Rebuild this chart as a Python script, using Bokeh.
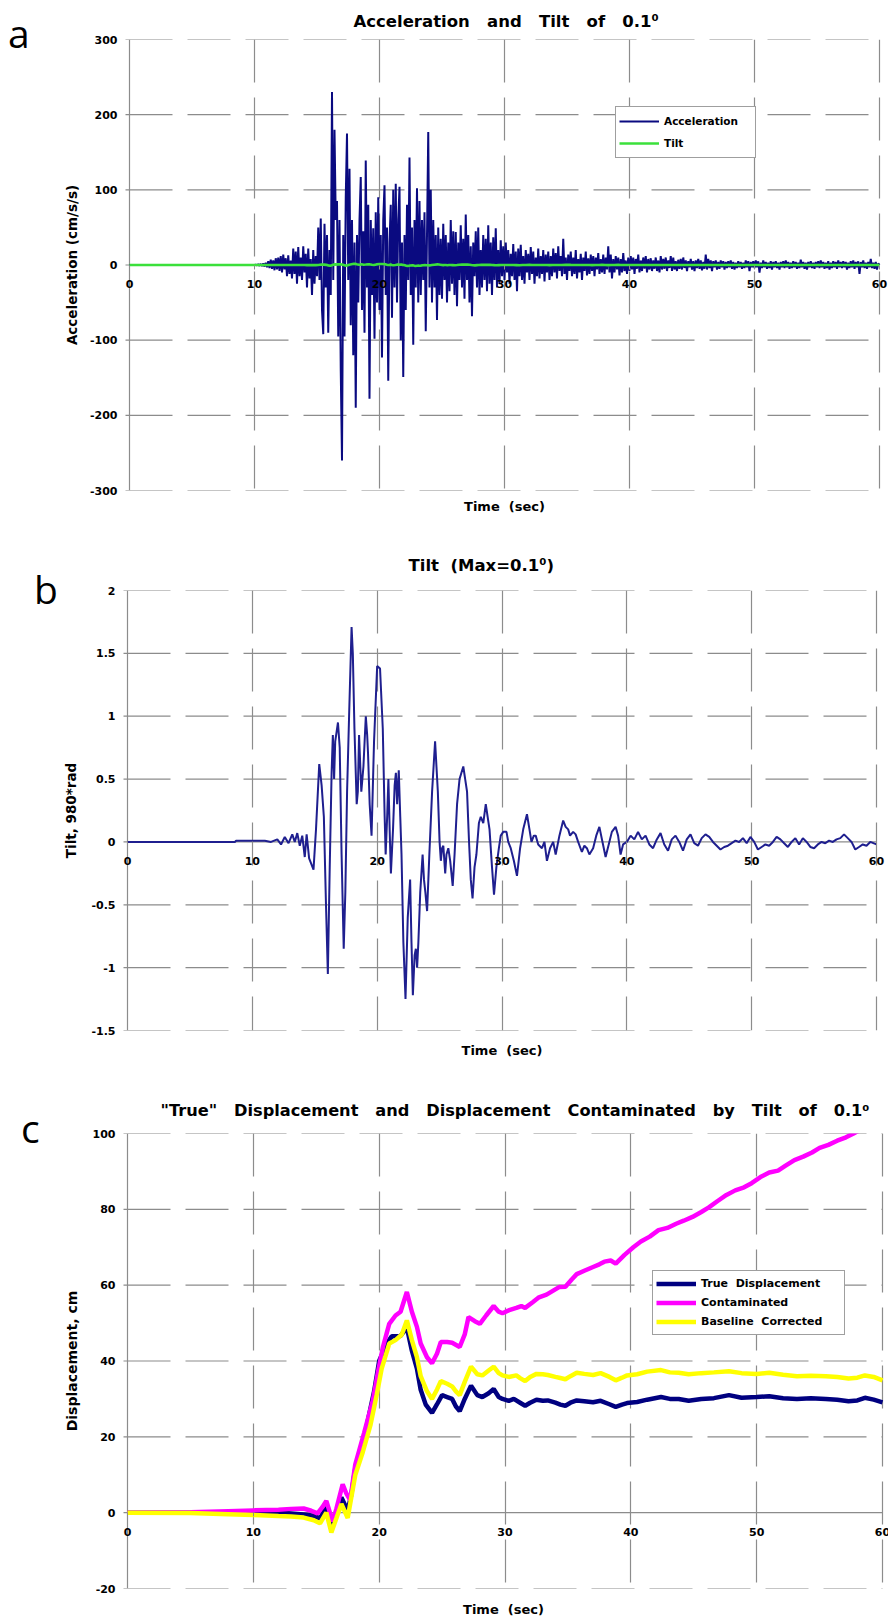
import numpy as np
from bokeh.plotting import figure
from bokeh.models import Range1d, FixedTicker, LinearAxis, Legend, LegendItem, Div
from bokeh.layouts import column, row
from bokeh.embed import file_html
from bokeh.resources import INLINE

FONT = "DejaVu Sans"
LETTER_FONT = "Open Sans"
GRID_COLOR = "#8c8c8c"

# ---------------- data ----------------
X_TICKS = [0, 10, 20, 30, 40, 50, 60]
X_TICK_LABELS = ["0", "10", "20", "30", "40", "50", "60"]

ACC_Y_TICKS = [-300, -200, -100, 0, 100, 200, 300]
ACC_Y_LABELS = ["-300", "-200", "-100", "0", "100", "200", "300"]
TILT_Y_TICKS = [-1.5, -1, -0.5, 0, 0.5, 1, 1.5, 2]
TILT_Y_LABELS = ["-1.5", "-1", "-0.5", "0", "0.5", "1", "1.5", "2"]
DISP_Y_TICKS = [-20, 0, 20, 40, 60, 80, 100]
DISP_Y_LABELS = ["-20", "0", "20", "40", "60", "80", "100"]

# acceleration (cm/s/s): quiet part, then samples every 0.1 s from 10 s
ACC_QUIET_TIME = [0.0, 10.0]
ACC_QUIET_VALUES = [0.0, 0.0]
ACC_START = 10.0
ACC_STEP = 0.1
ACC_VALUES = [
    0, 0.5, -0.5, 1, -1, 1.5, -1.5, 2, -2, 3,
    -3, 5, -4, 7, -5, 6, -7, 9, -6, 10,
    -8, 12, -10, 14, -6, 9, -15, 13, -12, 6,
    -18, 22, -12, 18, -25, 24, -15, 10, -20, 25,
    -10, 15, -30, 22, -18, 8, -40, 20, -25, 12,
    -15, 50, -20, 62, -60, -92, 55, -30, 40, -90,
    20, -40, 230, -20, 180, 60, 85, -95, 60, -140,
    -260, 40, -95, 90, 175, -20, 128, -80, 60, -120,
    30, -190, 40, -50, 60, 117, -60, 45, -90, 139,
    -30, 80, -178, 60, -40, 49, -98, 70, -50, 90,
    -60, 40, -123, 60, 106, -40, 50, -154, 30, 80,
    -70, 100, -30, 108, -50, 60, 104, -100, 30, -149,
    40, -60, 80, -20, 143, -40, 50, -106, 60, -30,
    102, -50, 85, -40, 60, -20, 70, -88, 40, 177,
    -30, 100, -50, 60, -30, 40, -73, 50, -40, 35,
    -45, 55, -20, 40, -50, 30, -35, 60, -25, 45,
    -40, 44, -55, 30, -20, 53, -30, 35, -45, 67,
    -20, 40, -50, 25, -68, 30, -15, 45, -30, 50,
    -40, 20, -30, 40, -20, 35, -35, 53, -25, 30,
    -40, 37, -20, 49, -30, 20, -25, 33, -15, 25,
    -20, 30, -10, 20, -25, 15, -15, 28, -20, 18,
    -35, 22, -15, 27, -20, 12, -25, 20, -10, 15,
    -20, 24, -12, 18, -25, 10, -15, 22, -18, 12,
    -12, 20, -22, 14, -10, 18, -20, 12, -15, 22,
    -10, 16, -18, 25, -8, 12, -15, 35, -12, 10,
    -20, 14, -8, 18, -15, 10, -12, 20, -18, 8,
    -10, 15, -20, 10, -8, 18, -14, 9, -12, 14,
    -8, 12, -15, 10, -6, 16, -12, 8, -10, 14,
    -12, 10, -6, 25, -10, 14, -18, 8, -10, 12,
    -6, 10, -14, 8, -10, 16, -8, 6, -12, 10,
    -8, 12, -6, 10, -12, 8, -5, 14, -10, 6,
    -8, 10, -5, 12, -10, 8, -6, 9, -8, 6,
    -5, 10, -8, 6, -10, 12, -6, 8, -5, 10,
    -8, 6, -4, 12, -8, 10, -6, 5, -8, 7,
    -5, 8, -6, 10, -4, 6, -8, 5, -3, 8,
    -6, 5, -8, 6, -4, 8, -5, 6, -7, 4,
    -5, 14, -6, 8, -4, 6, -8, 5, -3, 6,
    -6, 4, -5, 6, -3, 5, -6, 4, -4, 5,
    -3, 6, -5, 4, -6, 3, -4, 5, -3, 4,
    -5, 3, -4, 6, -3, 5, -8, 4, -3, 5,
    -4, 6, -3, 5, -10, 3, -4, 6, -3, 4,
    -5, 3, -4, 5, -6, 4, -3, 5, -4, 3,
    -6, 4, -3, 5, -4, 6, -3, 4, -5, 3,
    -4, 5, -3, 4, -5, 3, -4, 7, -3, 4,
    -5, 3, -6, 4, -3, 5, -4, 3, -5, 4,
    -3, 5, -4, 6, -3, 4, -5, 3, -4, 5,
    -6, 3, -4, 5, -3, 4, -5, 6, -3, 4,
    -4, 5, -3, 4, -6, 3, -4, 5, -3, 6,
    -5, 4, -3, 5, -12, 4, -3, 6, -4, 3,
    -5, 4, -3, 8, -4, 3, -5, 4, -6, 2,
    0,
]

# tilt (980*rad)
TILT_TIME = [
    0, 8.6, 8.7, 11, 11.5, 12, 12.3, 12.6, 12.9, 13.2, 13.4, 13.6, 13.8, 14.0, 14.2, 14.35, 14.55,
    14.9, 15.1, 15.36, 15.55, 15.73, 15.9, 16.05, 16.2, 16.35, 16.45, 16.55, 16.64, 16.86, 17.0,
    17.15, 17.32, 17.45, 17.59, 17.75, 17.95, 18.05, 18.18, 18.36, 18.45, 18.55, 18.65, 18.73,
    18.9, 19.09, 19.2, 19.27, 19.4, 19.55, 19.75, 20.0, 20.23, 20.45, 20.6, 20.68, 20.8, 20.9,
    21.0, 21.1, 21.27, 21.4, 21.5, 21.6, 21.73, 21.85, 21.95, 22.1, 22.27, 22.45, 22.64, 22.75,
    22.86, 23.0, 23.1, 23.2, 23.3, 23.45, 23.64, 23.75, 23.86, 24.0, 24.1, 24.18, 24.4, 24.64,
    24.75, 24.86, 25.0, 25.1, 25.2, 25.3, 25.45, 25.55, 25.7, 25.85, 26.05, 26.2, 26.4, 26.6,
    26.75, 26.9, 27.05, 27.2, 27.36, 27.5, 27.64, 27.8, 27.95, 28.15, 28.3, 28.5, 28.7, 28.85,
    29.0, 29.2, 29.36, 29.55, 29.75, 29.9, 30.1, 30.36, 30.5, 30.7, 30.95, 31.2, 31.45, 31.7,
    32.0, 32.2, 32.36, 32.55, 32.7, 32.9, 33.2, 33.4, 33.6, 33.85, 34.1, 34.3, 34.6, 34.9, 35.1,
    35.3, 35.45, 35.7, 35.9, 36.1, 36.4, 36.6, 36.8, 37.0, 37.3, 37.55, 37.8, 38.05, 38.3, 38.55,
    38.8, 39.1, 39.3, 39.5, 39.7, 40.0, 40.3, 40.6, 40.9, 41.2, 41.5, 41.8, 42.1, 42.4, 42.7,
    43.0, 43.3, 43.6, 43.9, 44.2, 44.5, 44.8, 45.1, 45.4, 45.7, 46.0, 46.3, 46.6, 46.9, 47.2,
    47.5, 47.8, 48.1, 48.4, 48.7, 49.0, 49.3, 49.6, 49.9, 50.2, 50.5, 50.8, 51.1, 51.4, 51.7,
    52.0, 52.3, 52.6, 52.9, 53.2, 53.5, 53.8, 54.1, 54.4, 54.7, 55.0, 55.3, 55.6, 55.9, 56.2,
    56.5, 56.8, 57.1, 57.4, 57.7, 58.0, 58.3, 58.6, 58.9, 59.2, 59.5, 60,
]
TILT_VALUES = [
    0, 0, 0.01, 0.01, 0.0, 0.02, -0.02, 0.04, -0.01, 0.06, 0.0, 0.07, -0.03, 0.05, -0.12, 0.06, -0.13,
    -0.22, 0.1, 0.62, 0.45, 0.2, -0.5, -1.05, -0.2, 0.55, 0.85, 0.5, 0.8, 0.95, 0.75,
    -0.1, -0.85, -0.4, 0.4, 1.0, 1.71, 1.5, 0.9, 0.3, 0.4, 0.85, 0.6, 0.4,
    0.6, 1.0, 0.85, 0.7, 0.3, 0.05, 0.8, 1.4, 1.38, 0.9, 0.2, -0.1, 0.2, 0.5,
    0.1, -0.25, 0.1, 0.45, 0.55, 0.3, 0.57, 0.2, -0.1, -0.8, -1.25, -0.6, -0.3, -0.8,
    -1.22, -0.9, -0.85, -1.0, -0.8, -0.4, -0.1, -0.3, -0.4, -0.55, -0.3, -0.1, 0.4, 0.8,
    0.6, 0.4, 0.0, -0.15, -0.05, -0.03, -0.25, -0.1, -0.05, -0.15, -0.35, -0.1, 0.3, 0.5,
    0.55, 0.6, 0.5, 0.4, 0.0, -0.3, -0.45, -0.2, -0.1, 0.15, 0.2, 0.15, 0.3, 0.2,
    0.1, -0.2, -0.42, -0.2, -0.05, 0.05, 0.08, 0.08, 0.0, -0.05, -0.15, -0.27, -0.05, 0.1,
    0.22, 0.1, 0.0, 0.05, 0.05, -0.02, -0.05, 0.0, -0.15, -0.05, 0.0, -0.1, 0.05, 0.17, 0.12,
    0.1, 0.05, 0.08, 0.06, 0.0, -0.08, -0.03, -0.05, -0.1, -0.05, 0.05, 0.12, 0.0, -0.12, -0.02,
    0.08, 0.12, 0.05, -0.1, -0.02, 0.0, 0.05, 0.02, 0.08, 0.02, 0.05, -0.02, -0.05, 0.02, 0.07,
    -0.02, -0.07, 0.02, 0.05, 0.0, -0.07, 0.02, 0.06, -0.01, -0.03, 0.03, 0.06, 0.04, 0.0, -0.03,
    -0.06, -0.04, -0.03, -0.01, 0.01, 0.0, 0.03, -0.01, 0.04, 0.0, -0.06, -0.04, -0.02, -0.03, 0.0,
    0.04, 0.02, -0.01, -0.04, 0.0, 0.03, -0.02, 0.03, 0.0, -0.04, -0.05, -0.02, 0.0, -0.01, 0.01,
    0.0, 0.02, 0.03, 0.06, 0.03, 0.0, -0.06, -0.04, -0.02, -0.03, 0.0, -0.02,
]

# displacement (cm)
TRUE_TIME = [0, 5, 10, 12, 13, 14, 14.8, 15.3, 15.8, 16.3, 16.6, 17.0, 17.5, 17.8, 18.1, 18.7, 19.2,
             19.6, 20.0, 20.6, 21.0, 21.3, 21.7, 22.2, 22.6, 23.0, 23.3, 23.7, 24.2, 24.6, 25.0, 25.4,
             25.8, 26.1, 26.4, 26.8, 27.3, 27.8, 28.2, 28.7, 29.1, 29.5, 29.8, 30.3, 30.7, 31.2, 31.6,
             32.0, 32.5, 33.0, 33.4, 34.0, 34.4, 34.8, 35.2, 35.7, 36.3, 37.0, 37.6, 38.3, 38.8, 39.3,
             39.7, 40.5, 41.3, 42.4, 43.1, 43.8, 44.6, 45.6, 46.6, 47.8, 48.8, 50.0, 51.0, 52.1, 53.2,
             54.3, 55.5, 56.4, 57.3, 58.0, 58.6, 59.3, 60]
TRUE_VALUES = [0, 0, 0.2, 0.1, -0.2, -0.5, -0.8, -1.5, 1.5, -3.5, 0, 4, 0.5, 5, 11.7, 18, 25.8,
               32, 40, 44.6, 46.5, 46.5, 46.6, 48.8, 42.7, 38, 32.4, 28.5, 26.3, 28.6, 31, 30.5,
               30, 28, 26.8, 30, 33.5, 31, 30.5, 31.5, 32.6, 30.5, 30, 29.5, 30, 29, 28.2,
               29, 29.8, 29.5, 29.6, 29, 28.5, 28.2, 29, 29.6, 29.4, 29.1, 29.5, 28.6, 27.9, 28.5,
               28.9, 29.2, 29.8, 30.5, 30, 30, 29.5, 30, 30.2, 31, 30.3, 30.5, 30.7, 30.2, 30,
               30.2, 30, 29.8, 29.4, 29.6, 30.3, 29.8, 29.1]

CONT_TIME = [0, 5, 8, 10, 12, 13, 14, 14.6, 15.1, 15.5, 15.8, 16.3, 16.6, 17.1, 17.4, 17.7, 18.1, 18.8,
             19.5, 19.9, 20.3, 20.8, 21.3, 21.7, 22.2, 22.6, 23.0, 23.3, 23.8, 24.2, 24.6, 24.9, 25.4,
             25.8, 26.4, 26.8, 27.1, 27.6, 28.0, 28.5, 29.1, 29.5, 29.8, 30.4, 30.9, 31.3, 31.6, 32.2,
             32.7, 33.3, 33.9, 34.3, 34.8, 35.3, 35.7, 36.3, 37.0, 37.5, 37.9, 38.4, 38.8, 39.5, 40.2,
             40.8, 41.5, 42.2, 42.9, 43.6, 44.2, 44.9, 45.6, 46.2, 46.9, 47.6, 48.3, 49.0, 49.6, 50.3,
             51.0, 51.7, 52.3, 53.0, 53.7, 54.4, 55.0, 55.7, 56.4, 57.1, 57.7, 58.5, 59.3, 60]
CONT_VALUES = [0, 0.1, 0.4, 0.6, 0.8, 1.0, 1.1, 0.5, -0.2, 1.5, 3.1, -2.3, 1, 7.5, 5, 3.3, 12.7, 21,
               29.6, 37, 43.7, 49.8, 52, 53, 58.2, 53, 49, 44.6, 41, 39.4, 42, 45, 45,
               44.8, 43.7, 47, 51.6, 50.5, 49.8, 52, 54.5, 53, 52.6, 53.5, 54, 54.5, 54, 55.5,
               56.8, 57.5, 58.7, 59.5, 59.6, 61.5, 62.9, 63.8, 64.8, 65.5, 66.2, 66.5, 65.7, 68, 70,
               71.5, 72.8, 74.5, 75.1, 76.2, 77, 78, 79.3, 80.5, 82.2, 83.8, 85, 85.8, 86.9, 88.5,
               89.7, 90.2, 91.5, 93, 93.9, 95, 96.2, 97, 98.1, 99, 100, 101.5, 102.8, 104]

BASE_TIME = [0, 5, 8, 10, 12, 13, 14, 14.8, 15.3, 15.8, 16.2, 16.6, 17.0, 17.5, 18.1, 18.7, 19.3, 19.8,
             20.2, 20.8, 21.3, 21.8, 22.2, 22.6, 23.0, 23.3, 23.8, 24.2, 24.6, 24.9, 25.4, 25.8, 26.1,
             26.4, 26.8, 27.3, 27.8, 28.2, 28.7, 29.1, 29.5, 29.8, 30.3, 30.9, 31.2, 31.6, 32.0, 32.5,
             33.0, 33.4, 34.0, 34.4, 34.8, 35.2, 35.7, 36.3, 37.0, 37.6, 38.3, 38.8, 39.3, 39.7, 40.5,
             41.3, 42.4, 43.1, 43.8, 44.6, 45.6, 46.6, 47.8, 48.8, 50.0, 51.0, 52.1, 53.2, 54.3, 55.5,
             56.4, 57.3, 58.0, 58.6, 59.3, 60]
BASE_VALUES = [0, -0.1, -0.4, -0.6, -0.9, -1.0, -1.3, -2, -2.8, 0, -5.2, -1.5, 2.3, -1.4, 9.9, 16, 23, 31,
               38, 44.6, 45.5, 47, 50.7, 45.5, 41, 36, 32, 30, 32.5, 34.7, 34, 33.3, 32,
               31, 34.5, 38.5, 36.5, 36.2, 37.5, 38.5, 36.8, 36.2, 35.8, 36.2, 35.5, 34.7, 35.8, 36.6,
               36.5, 36.3, 35.8, 35.5, 35.2, 36, 36.9, 36.6, 36.3, 36.8, 35.8, 34.9, 35.6, 36.2, 36.5,
               37.2, 37.6, 37, 36.9, 36.5, 36.8, 37, 37.3, 36.8, 36.6, 36.9, 36.4, 36, 36.1, 36,
               35.8, 35.4, 35.6, 36.2, 35.8, 34.9]

NBSP = "\u00a0"
LETTER_COL = 60      # width of the column holding the panel letters
PAGE_W = 888


def spaced(*words, gap=3):
    return (NBSP * gap).join(words)


def make_panel(y_lo, y_hi, y_ticks, y_labels, y_title, title, title_offset, title_standoff,
               title_size, data_left, data_w, frame_top, frame_h, b_bottom, pad_l, pad_r,
               time_standoff, ylabel_standoff, ylabel_size, dash_offset):
    ppu = data_w / 60.0
    frame_w = data_w + pad_l + pad_r
    b_left = data_left - pad_l - LETTER_COL
    b_right = PAGE_W - LETTER_COL - b_left - frame_w
    p = figure(frame_width=frame_w, frame_height=frame_h,
               x_range=Range1d(-pad_l / ppu, 60 + pad_r / ppu), y_range=Range1d(y_lo, y_hi),
               output_backend="svg", toolbar_location=None,
               min_border_left=b_left, min_border_right=b_right,
               min_border_top=frame_top, min_border_bottom=b_bottom,
               outline_line_color=None, background_fill_color="white",
               border_fill_color="white", margin=(0, 0, 0, 0))
    p.title.text = title
    p.title.align = "left"
    p.title.offset = title_offset + pad_l
    p.title.standoff = title_standoff
    p.title.text_font = FONT
    p.title.text_font_size = title_size
    p.title.text_font_style = "bold"
    p.title.text_color = "black"

    # x axis crossing at y = 0 (ticks + labels only)
    xax = p.below[0]
    xax.fixed_location = 0
    xax.ticker = FixedTicker(ticks=X_TICKS)
    xax.major_label_overrides = dict(zip(X_TICKS, X_TICK_LABELS))
    xax.axis_line_color = None
    xax.major_tick_line_color = GRID_COLOR
    xax.major_tick_in = 0
    xax.major_tick_out = 4
    xax.minor_tick_line_color = None
    xax.major_label_standoff = 11
    xax.major_label_text_font = FONT
    xax.major_label_text_font_style = "bold"
    xax.major_label_text_font_size = "11px"
    xax.major_label_text_color = "black"

    yax = p.left[0]
    yax.ticker = FixedTicker(ticks=y_ticks)
    yax.major_label_overrides = dict(zip(y_ticks, y_labels))
    yax.axis_line_color = None
    yax.major_tick_line_color = None
    yax.major_tick_in = 0
    yax.major_tick_out = 0
    yax.minor_tick_line_color = None
    yax.minor_tick_out = 0
    yax.major_label_standoff = 0
    yax.major_label_text_font = FONT
    yax.major_label_text_font_style = "bold"
    yax.major_label_text_font_size = "11px"
    yax.major_label_text_color = "black"
    yax.axis_label = y_title
    yax.axis_label_standoff = ylabel_standoff
    yax.axis_label_text_font = FONT
    yax.axis_label_text_font_style = "bold"
    yax.axis_label_text_font_size = ylabel_size
    yax.axis_label_text_color = "black"

    time_axis = LinearAxis(ticker=FixedTicker(ticks=[]), axis_label=spaced("Time", "(sec)", gap=2),
                           axis_line_color=None, major_tick_line_color=None,
                           minor_tick_line_color=None, major_tick_out=0, minor_tick_out=0,
                           major_tick_in=0, minor_tick_in=0,
                           axis_label_standoff=time_standoff,
                           axis_label_text_font=FONT, axis_label_text_font_style="bold",
                           axis_label_text_font_size="13px", axis_label_text_color="black")
    p.add_layout(time_axis, "below")

    # vertical dashed grid
    p.xgrid.ticker = FixedTicker(ticks=X_TICKS[1:])
    g = p.xgrid[0]
    g.grid_line_color = GRID_COLOR
    g.grid_line_width = 1.2
    g.grid_line_dash = "43 15"
    g.grid_line_dash_offset = dash_offset
    p.ygrid.visible = False

    # horizontal dashed grid spanning the data width, solid axis lines
    x0, x1 = X_TICKS[0], X_TICKS[-1]
    hy = [t for t in y_ticks if t != 0]
    p.segment(x0=[x0] * len(hy), x1=[x1] * len(hy), y0=hy, y1=hy,
              line_color=GRID_COLOR, line_width=1.2, line_dash="43 15")
    p.segment(x0=[x0, x0], x1=[x1, x0], y0=[0, y_lo], y1=[0, y_hi],
              line_color=GRID_COLOR, line_width=1.2)
    tick_len = 4 / ppu
    p.segment(x0=[x0 - tick_len] * len(y_ticks), x1=[x0] * len(y_ticks), y0=y_ticks, y1=y_ticks,
              line_color=GRID_COLOR, line_width=1.2)
    return p


def letter_div(text, height, pad_top, pad_left):
    html = ("<div style=\"font-family:'Open Sans';font-size:39px;line-height:39px;"
            "margin:0;padding:%dpx 0 0 %dpx;color:black;\">%s</div>" % (pad_top, pad_left, text))
    return Div(text=html, width=LETTER_COL, height=height, margin=(0, 0, 0, 0))


# ---------------- panel a ----------------
pa = make_panel(-300, 300, ACC_Y_TICKS, ACC_Y_LABELS, "Acceleration (cm/s/s)",
                spaced("Acceleration", "and", "Tilt", "of", "0.1\u2070"), 224, 18, "16.5px",
                121, 750, 38, 451, 40, 12, 12, 8, 7, "13.5px", 56)
acc_t = np.concatenate([ACC_QUIET_TIME, ACC_START + ACC_STEP * np.arange(len(ACC_VALUES))])
acc_v = np.concatenate([ACC_QUIET_VALUES, ACC_VALUES])
r_acc = pa.line(acc_t, acc_v, line_color="#0a0a80", line_width=2.0)
r_tilt_a = pa.line(TILT_TIME, TILT_VALUES, line_color="#3be03b", line_width=2.6)
leg_a = Legend(items=[LegendItem(label="Acceleration", renderers=[r_acc]),
                      LegendItem(label="Tilt", renderers=[r_tilt_a])],
               location=(498, 332), orientation="vertical", margin=0, padding=3, spacing=0,
               glyph_width=40, glyph_height=22, label_height=22, label_width=88,
               label_standoff=5, label_text_font=FONT, label_text_font_style="bold",
               label_text_font_size="10.5px", label_text_color="black",
               border_line_color="#404040", border_line_width=1,
               background_fill_color="white", background_fill_alpha=1.0)
pa.add_layout(leg_a)

# ---------------- panel b ----------------
pb = make_panel(-1.5, 2, TILT_Y_TICKS, TILT_Y_LABELS, "Tilt, 980*rad",
                spaced("Tilt", "(Max=0.1\u2070)", gap=2), 281, 32, "16.5px",
                123, 749, 60, 440, 40, 12, 12, 12, 9, "13.5px", 9)
pb.line(TILT_TIME, TILT_VALUES, line_color="#1f1f8f", line_width=2.0)

# ---------------- panel c ----------------
pc = make_panel(-20, 100, DISP_Y_TICKS, DISP_Y_LABELS, "Displacement, cm",
                spaced("\"True\"", "Displacement", "and", "Displacement", "Contaminated",
                       "by", "Tilt", "of", "0.1\u2070"), 33, 28, "16.2px",
                123, 755, 63, 455, 32, 12, 9, 13, 10, "14px", 52)
r_true = pc.line(TRUE_TIME, TRUE_VALUES, line_color="#000080", line_width=4.5)
r_cont = pc.line(CONT_TIME, CONT_VALUES, line_color="#ff00ff", line_width=4.5)
r_base = pc.line(BASE_TIME, BASE_VALUES, line_color="#ffff00", line_width=4.5)
leg_c = Legend(items=[LegendItem(label=spaced("True", "Displacement", gap=2), renderers=[r_true]),
                      LegendItem(label="Contaminated", renderers=[r_cont]),
                      LegendItem(label=spaced("Baseline", "Corrected", gap=2), renderers=[r_base])],
               location=(537, 253), orientation="vertical", margin=0, padding=3, spacing=0,
               glyph_width=40, glyph_height=19, label_height=19, label_width=140,
               label_standoff=5, label_text_font=FONT, label_text_font_style="bold",
               label_text_font_size="11px", label_text_color="black",
               border_line_color="#404040", border_line_width=1,
               background_fill_color="white", background_fill_alpha=1.0)
pc.add_layout(leg_c)

row_a = row(letter_div("a", 529, 13, 8), pa, spacing=0, margin=(0, 0, 0, 0))
row_b = row(letter_div("b", 540, 39, 34), pb, spacing=0, margin=(0, 0, 0, 0))
row_c = row(letter_div("c", 550, 38, 21), pc, spacing=0, margin=(0, 0, 0, 0))
layout = column(row_a, row_b, row_c, spacing=0, margin=(0, 0, 0, 0))
open("out.html", "w").write(file_html(layout, INLINE))
